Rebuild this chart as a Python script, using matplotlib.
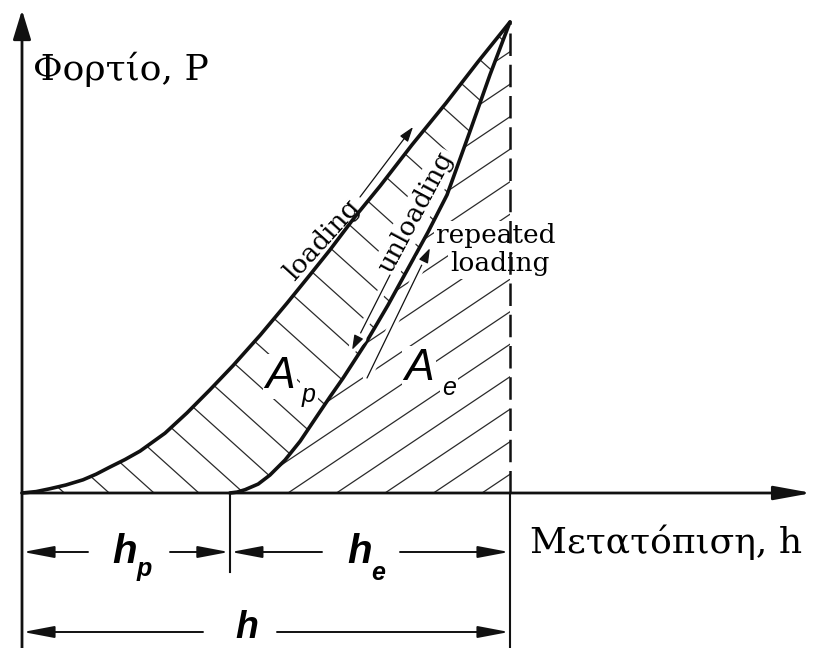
import numpy as np
import matplotlib
matplotlib.use("Agg")
import matplotlib.pyplot as plt
from matplotlib.patches import Polygon
from matplotlib.collections import LineCollection
import matplotlib.patheffects as pe

# indentation cycle, normalised: h / h_max and P / P_max
load_h = [0.000, 0.029, 0.057, 0.090, 0.125, 0.152, 0.180, 0.211, 0.242, 0.293,
          0.338, 0.385, 0.432, 0.488, 0.543, 0.590, 0.631, 0.682, 0.734, 0.799,
          0.869, 0.934, 1.000]
load_P = [0.000, 0.003, 0.009, 0.017, 0.028, 0.040, 0.055, 0.071, 0.089, 0.127,
          0.170, 0.219, 0.270, 0.335, 0.403, 0.463, 0.516, 0.586, 0.652, 0.739,
          0.828, 0.915, 1.000]
unload_h = [0.426, 0.441, 0.457, 0.484, 0.508, 0.539, 0.570, 0.605, 0.631, 0.658,
            0.703, 0.750, 0.795, 0.832, 0.871, 0.918, 0.959, 1.000]
unload_P = [0.000, 0.002, 0.007, 0.019, 0.038, 0.070, 0.110, 0.164, 0.204, 0.244,
            0.316, 0.399, 0.484, 0.554, 0.633, 0.768, 0.888, 1.000]
h_plastic = 0.426
h_total = 1.0
P_max = 1.0

W, H = 832, 648
X0, Y0, SX, SY = 22, 493, 488, 471   # origin and unit lengths on the canvas (px)


def cv(x, y):
    """canvas px (y down) -> data coords"""
    return (x - X0) / SX, (Y0 - y) / SY


def px(h, P):
    return X0 + h * SX, Y0 - P * SY


fig = plt.figure(figsize=(W / 100, H / 100), dpi=100)
ax = fig.add_axes([0, 0, 1, 1])
ax.set_xlim(-X0 / SX, (W - X0) / SX)
ax.set_ylim((Y0 - H) / SY, Y0 / SY)
ax.axis("off")

INK = "#111111"
serif = "DejaVu Serif"
sans = "Liberation Sans"


def hatch(verts, direction, spacing, phase):
    poly = Polygon(verts, closed=True, facecolor="none", edgecolor="none")
    ax.add_patch(poly)
    dx, dy = direction
    n = np.hypot(dx, dy)
    dx, dy = dx / n, dy / n
    nx_, ny_ = -dy, dx
    segs = []
    for c in np.arange(-1500, 1500, spacing) + phase:
        cx, cy = 400 + c * nx_, 300 + c * ny_
        segs.append([cv(cx - 2000 * dx, cy - 2000 * dy), cv(cx + 2000 * dx, cy + 2000 * dy)])
    lc = LineCollection(segs, colors="#2a2a2a", linewidths=0.9, zorder=1)
    ax.add_collection(lc)
    lc.set_clip_path(poly)


def arrow(p_from, p_to, hl, hw, lw, z=4, halo=0):
    props = dict(arrowstyle=f"-|>,head_length={hl},head_width={hw}", color=INK,
                 lw=lw, shrinkA=0, shrinkB=0, mutation_scale=10)
    if halo:
        props["path_effects"] = [pe.withStroke(linewidth=halo, foreground="white")]
    ax.annotate("", xy=cv(*p_to), xytext=cv(*p_from), arrowprops=props,
                annotation_clip=False, zorder=z)


# hatched areas
area_p = list(zip(load_h, load_P)) + list(zip(unload_h[::-1], unload_P[::-1]))
area_e = list(zip(unload_h, unload_P)) + [(h_total, 0.0)]
hatch(area_p, (1, 0.9), 30, 8)
hatch(area_e, (1, -0.67), 27, 5)

# curves
ax.plot(load_h, load_P, color=INK, lw=2.6, solid_capstyle="round", zorder=3)
ax.plot(unload_h, unload_P, color=INK, lw=2.6, solid_capstyle="round", zorder=3)
ax.plot([h_total, h_total], [0, P_max], color=INK, lw=1.8, dashes=(9, 3.5), zorder=3)

# axes
arrow((X0, H), (X0, 10), 1.8, 0.55, 2.0, z=5)
arrow((X0, Y0), (812, Y0), 2.3, 0.42, 2.0, z=5)

# extension lines
xr, _ = px(h_total, 0)
xm, _ = px(h_plastic, 0)
ax.plot(*zip(cv(xr, Y0), cv(xr, H)), color=INK, lw=1.5, zorder=3)
ax.plot(*zip(cv(xm, Y0), cv(xm, 572)), color=INK, lw=1.5, zorder=3)

# dimension lines
dim = dict(hl=1.9, hw=0.36, lw=1.4)
arrow((88, 552), (X0 + 1, 552), **dim)
arrow((170, 552), (xm - 1, 552), **dim)
arrow((322, 552), (xm + 1, 552), **dim)
arrow((400, 552), (xr - 1, 552), **dim)
arrow((203, 632), (X0 + 1, 632), **dim)
arrow((277, 632), (xr - 1, 632), **dim)

# loading / unloading direction arrows
arrow((360, 197), (413, 127), 0.9, 0.3, 0.9)
arrow((390, 275), (352, 350), 0.9, 0.3, 0.9, halo=6)
arrow((367, 378), (430, 248), 0.9, 0.3, 0.9, halo=6)

# axis titles
ax.text(*cv(33, 80), "Φορτίο, P", family=serif, fontsize=26, ha="left", va="baseline")
ax.text(*cv(530, 553), "Μετατόπιση, h", family=serif, fontsize=26, ha="left", va="baseline")

# curve labels
blank = dict(facecolor="white", edgecolor="none", pad=1.5)
ax.text(*cv(322, 240), "loading", family=serif, fontsize=19, rotation=48,
        rotation_mode="anchor", ha="center", va="center", zorder=2)
ax.text(*cv(416, 212), "unloading", family=serif, fontsize=19, rotation=62,
        rotation_mode="anchor", ha="center", va="center", bbox=blank, zorder=2)
ax.text(*cv(496, 236), "repeated", family=serif, fontsize=19, ha="center", va="center",
        bbox=blank, zorder=2)
ax.text(*cv(500, 264), "loading", family=serif, fontsize=19, ha="center", va="center",
        bbox=blank, zorder=2)

# area and length symbols
sym = dict(family=sans, style="italic", va="baseline", ha="left")
ax.text(*cv(265, 388), "A", fontsize=32, bbox=blank, zorder=2, **sym)
ax.text(*cv(302, 402), "p", fontsize=18, bbox=blank, zorder=2, **sym)
ax.text(*cv(404, 380), "A", fontsize=32, bbox=blank, zorder=2, **sym)
ax.text(*cv(442, 395), "e", fontsize=18, bbox=blank, zorder=2, **sym)

ax.text(*cv(112, 563), "h", fontsize=29, weight="bold", **sym)
ax.text(*cv(137, 576), "p", fontsize=18, weight="bold", **sym)
ax.text(*cv(347, 563), "h", fontsize=29, weight="bold", **sym)
ax.text(*cv(371, 580), "e", fontsize=18, weight="bold", **sym)
ax.text(*cv(235, 638), "h", fontsize=27, weight="bold", **sym)

fig.savefig("out.png", dpi=100, facecolor="white")
